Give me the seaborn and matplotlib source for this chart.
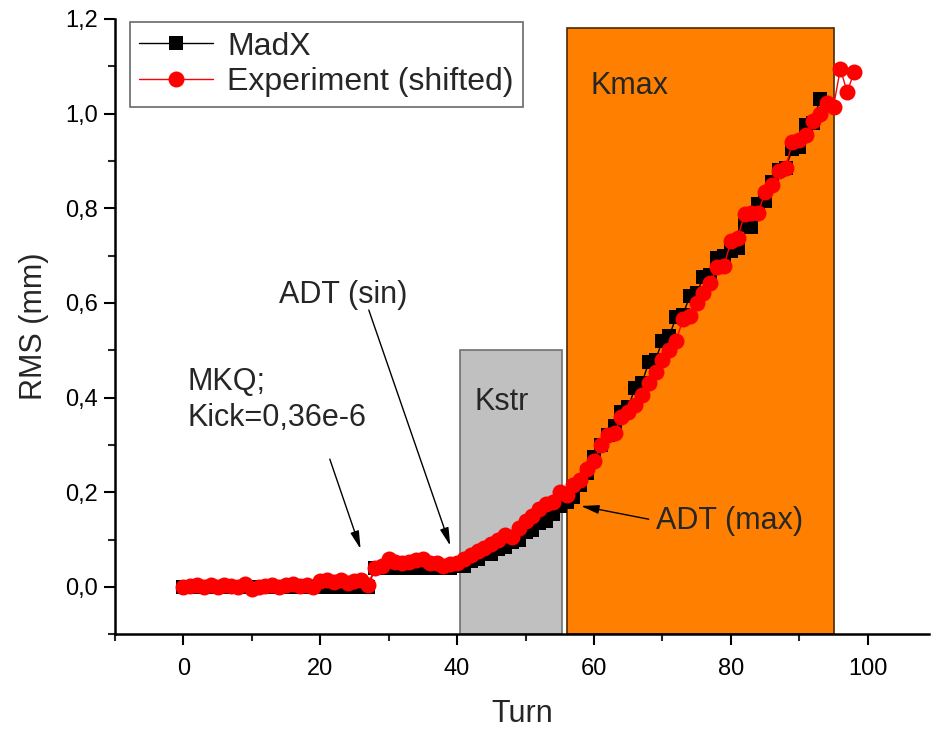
import numpy as np
import pandas as pd
import matplotlib
matplotlib.use("Agg")
import matplotlib.pyplot as plt
from matplotlib.patches import Rectangle
from matplotlib.ticker import MultipleLocator, FuncFormatter
import seaborn as sns

# MadX simulation: RMS (mm) per turn, turns 0..93
madx_turn = list(range(0, 94))
madx_rms = ([0.0] * 28 + [0.04] * 12 +
            [0.045, 0.045, 0.055, 0.06, 0.07, 0.07, 0.08, 0.085, 0.095, 0.10,
             0.115, 0.12, 0.135, 0.14, 0.155, 0.17, 0.18, 0.19, 0.215, 0.24,
             0.275, 0.30, 0.32, 0.34, 0.37, 0.38, 0.42, 0.43, 0.475, 0.48,
             0.52, 0.53, 0.57, 0.575, 0.615, 0.62, 0.655, 0.66, 0.695, 0.70,
             0.71, 0.715, 0.765, 0.76, 0.81, 0.815, 0.855, 0.88, 0.885, 0.925,
             0.93, 0.975, 0.98, 1.03])

# Measured RMS (mm), shifted, turns 0..98
exp_turn = list(range(0, 99))
exp_rms = [0.0, 0.002, 0.005, 0.0, 0.003, 0.0, 0.005, 0.002, 0.0, 0.006,
           -0.005, 0.0, 0.002, 0.005, 0.0, 0.003, 0.007, 0.002, 0.005, 0.0,
           0.013, 0.015, 0.01, 0.015, 0.008, 0.013, 0.015, 0.005, 0.04, 0.045,
           0.058, 0.052, 0.05, 0.052, 0.057, 0.058, 0.05, 0.05, 0.045, 0.048,
           0.05, 0.06, 0.068, 0.075, 0.082, 0.09, 0.10, 0.11, 0.105, 0.125,
           0.14, 0.15, 0.165, 0.175, 0.18, 0.20, 0.195, 0.215, 0.225, 0.25,
           0.265, 0.30, 0.32, 0.325, 0.36, 0.37, 0.385, 0.405, 0.43, 0.455,
           0.48, 0.50, 0.52, 0.565, 0.572, 0.60, 0.62, 0.643, 0.675, 0.678,
           0.73, 0.738, 0.787, 0.79, 0.79, 0.835, 0.85, 0.878, 0.886, 0.94,
           0.945, 0.955, 0.985, 1.0, 1.022, 1.015, 1.095, 1.045, 1.088]

# Shaded kicker regions: start turn, end turn, top RMS, fill and edge colours
region_names = ["Kstr", "Kmax"]
region_start = [40.4, 56.0]
region_end = [55.4, 95.1]
region_top = [0.5, 1.18]
region_fill = ["#c0c0c0", "#ff8000"]
region_edge = ["#707070", "#4a2a00"]

sns.set_theme(style="ticks")
plt.rcParams["font.family"] = ["Liberation Sans", "DejaVu Sans"]

fig = plt.figure(figsize=(9.34, 7.29), dpi=100)
ax = fig.add_axes([0.123, 0.130, 0.872, 0.844])

ymin = -0.1
for x0, x1, top, fc, ec in zip(region_start, region_end, region_top,
                               region_fill, region_edge):
    ax.add_patch(Rectangle((x0, ymin), x1 - x0, top - ymin, facecolor=fc,
                           edgecolor=ec, linewidth=1.2, zorder=1))

madx = pd.DataFrame({"Turn": madx_turn, "RMS": madx_rms})
expt = pd.DataFrame({"Turn": exp_turn, "RMS": exp_rms})

sns.lineplot(data=madx, x="Turn", y="RMS", ax=ax, color="black", lw=1,
             marker="s", markersize=10, markeredgewidth=0, label="MadX",
             zorder=3)
sns.lineplot(data=expt, x="Turn", y="RMS", ax=ax, color="red", lw=1,
             marker="o", markersize=11.5, markeredgewidth=0,
             label="Experiment (shifted)", zorder=4)

ax.set_xlim(-10, 109)
ax.set_ylim(-0.1, 1.2)
ax.xaxis.set_major_locator(MultipleLocator(20))
ax.xaxis.set_minor_locator(MultipleLocator(10))
ax.yaxis.set_major_locator(MultipleLocator(0.2))
ax.yaxis.set_minor_locator(MultipleLocator(0.1))

ax.xaxis.set_major_formatter(
    FuncFormatter(lambda v, p: "" if v < 0 else f"{v:.0f}"))
ax.yaxis.set_major_formatter(
    FuncFormatter(lambda v, p: "" if v < -0.01 else f"{v:.1f}".replace(".", ",")))

ax.tick_params(which="major", direction="out", length=8, width=1.5,
               labelsize=17, colors="black")
ax.tick_params(axis="x", which="major", pad=9)
ax.tick_params(axis="y", which="major", pad=4)
ax.tick_params(which="minor", direction="out", length=5, width=1.5)
for side in ["top", "right"]:
    ax.spines[side].set_visible(False)
for side in ["left", "bottom"]:
    ax.spines[side].set_linewidth(1.8)
    ax.spines[side].set_color("black")

ax.set_xlabel("Turn", fontsize=22, labelpad=14)
ax.set_ylabel("RMS (mm)", fontsize=22, labelpad=12)

leg = ax.legend(loc="upper left", bbox_to_anchor=(0.018, 0.995), fontsize=23,
                frameon=True, fancybox=False, edgecolor="#444444",
                handlelength=2.3, handletextpad=0.45, borderpad=0.3,
                labelspacing=0.18, borderaxespad=0.0)
leg.get_frame().set_linewidth(1.2)

ax.text(42.5, 0.39, "Kstr", fontsize=22, ha="left", va="center", zorder=5)
ax.text(59.5, 1.058, "Kmax", fontsize=22, ha="left", va="center", zorder=5)

arrow = dict(arrowstyle="-|>,head_length=0.9,head_width=0.22",
             color="black", lw=1, shrinkA=0, shrinkB=0)
ax.text(0.6, 0.465, "MKQ;\nKick=0,36e-6", fontsize=22, ha="left", va="top",
        linespacing=1.25, zorder=5)
ax.annotate("", xy=(25.9, 0.08), xytext=(21.4, 0.27), arrowprops=arrow,
            zorder=5)
ax.text(14.0, 0.617, "ADT (sin)", fontsize=22, ha="left", va="center", zorder=5)
ax.annotate("", xy=(39.0, 0.087), xytext=(27.1, 0.585), arrowprops=arrow,
            zorder=5)
ax.text(69.0, 0.14, "ADT (max)", fontsize=22, ha="left", va="center", zorder=5)
ax.annotate("", xy=(58.1, 0.171), xytext=(68.0, 0.143), arrowprops=arrow,
            zorder=5)

fig.savefig("out.png", dpi=100, facecolor="white")
